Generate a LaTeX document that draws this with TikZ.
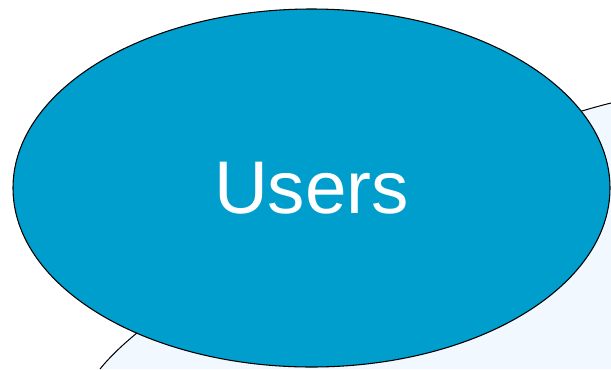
\documentclass[tikz,border=0pt]{standalone}
\usepackage{fontspec}
\setmainfont{Liberation Sans}
\usetikzlibrary{shapes.geometric}
\definecolor{usersblue}{RGB}{0,158,204}
\definecolor{paleblue}{RGB}{241,248,255}
\tikzset{
  usersnode/.style={ellipse,draw=black,fill=usersblue,line width=0.8pt,
    minimum width=447.75pt,minimum height=268.5pt,inner sep=0pt,
    text=white,font=\fontsize{56}{60}\selectfont}
}
\begin{document}
\begin{tikzpicture}[x=0.75pt,y=0.75pt,yscale=-1,xscale=1]
\useasboundingbox (0,0) rectangle (611,369);

%Shape: Back area
\fill[paleblue] (100,369) .. controls (175,276) and (470,138) .. (611,103) -- (611,369) -- cycle ;
%Curve Lines
\draw[line width=0.75pt] (100,369) .. controls (175,276) and (470,138) .. (611,103) ;

%Shape: Ellipse
\node[usersnode] (users) at (311.5,188) {Users};

\end{tikzpicture}
\end{document}
